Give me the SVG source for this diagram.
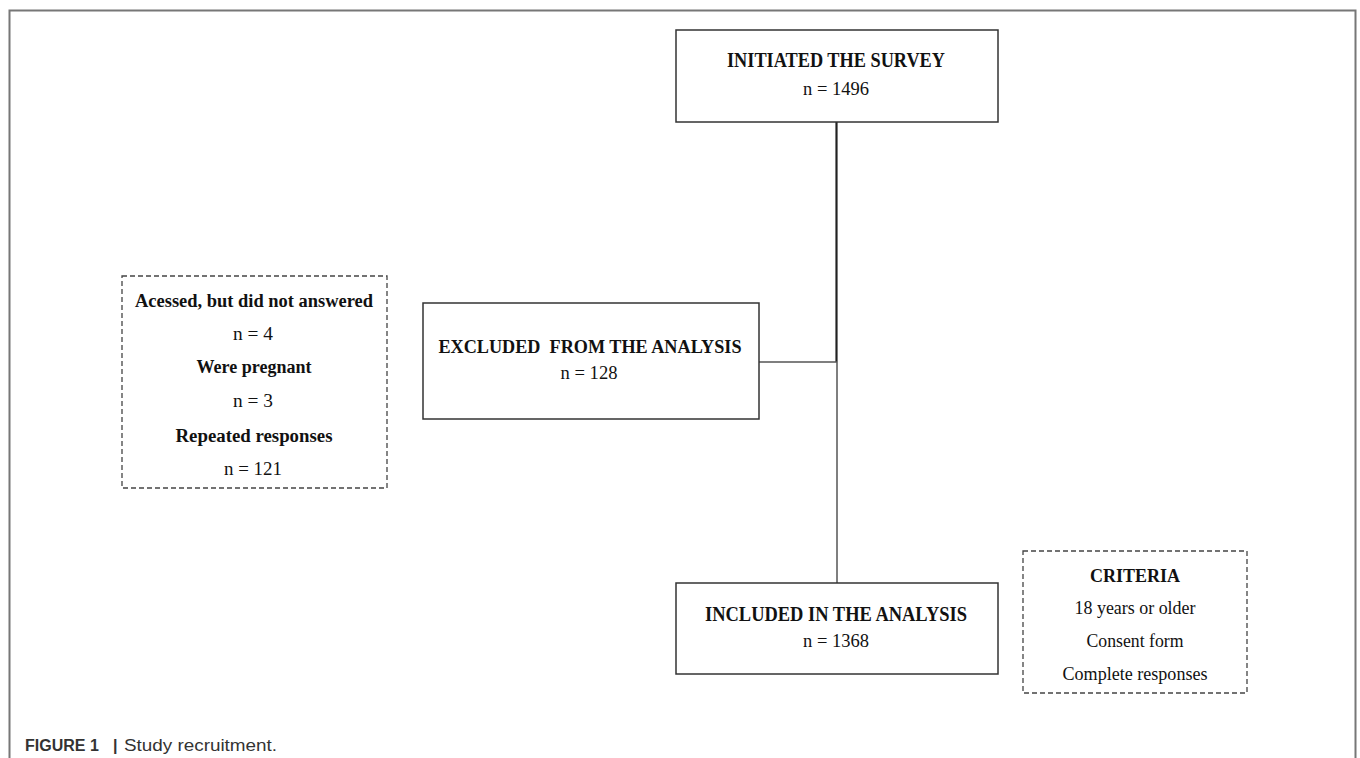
<svg xmlns="http://www.w3.org/2000/svg" width="1360" height="758" viewBox="0 0 1360 758">
<style>
.box{fill:#fff;stroke:#333;stroke-width:1.5}
.dash{fill:#fff;stroke:#444;stroke-width:1.3;stroke-dasharray:5,3}
.h{font-family:"Liberation Serif",serif;font-weight:bold;font-size:18.5px;fill:#111;text-anchor:middle}
.big{font-size:20px}
.n{font-family:"Liberation Serif",serif;font-size:18px;fill:#111;text-anchor:middle}
.c{font-family:"Liberation Sans",sans-serif;font-size:16px;fill:#333}
.ln{fill:none;stroke:#555;stroke-width:1.5}
</style>
<rect width="1360" height="758" fill="#fff"/>
<path d="M9.5,758 V10.5 H1355.5 V758" fill="none" stroke="#777" stroke-width="2"/>
<g id="connectors">
<path d="M836.5,122 V362" fill="none" stroke="#222" stroke-width="2.2"/>
<path d="M759,362 H837 M837,362 V583" class="ln"/>
</g>
<g id="initiated">
<rect class="box" x="676" y="30" width="322" height="92"/>
<text class="h big" x="836" y="67" textLength="218" lengthAdjust="spacingAndGlyphs">INITIATED THE SURVEY</text>
<text class="n" x="836" y="95" textLength="66" lengthAdjust="spacingAndGlyphs">n = 1496</text>
</g>
<g id="excluded">
<rect class="box" x="423" y="303" width="336" height="116"/>
<text class="h" x="590" y="353" textLength="303" lengthAdjust="spacingAndGlyphs">EXCLUDED&#160; FROM THE ANALYSIS</text>
<text class="n" x="589" y="379" textLength="57" lengthAdjust="spacingAndGlyphs">n = 128</text>
</g>
<g id="included">
<rect class="box" x="676" y="583" width="322" height="91"/>
<text class="h big" x="836" y="621" textLength="262" lengthAdjust="spacingAndGlyphs">INCLUDED IN THE ANALYSIS</text>
<text class="n" x="836" y="647" textLength="66" lengthAdjust="spacingAndGlyphs">n = 1368</text>
</g>
<g id="reasons">
<rect class="dash" x="122" y="276" width="265" height="212"/>
<text class="h" x="254" y="307" textLength="238" lengthAdjust="spacingAndGlyphs">Acessed, but did not answered</text>
<text class="n" x="253" y="340" textLength="40" lengthAdjust="spacingAndGlyphs">n = 4</text>
<text class="h" x="254" y="373" textLength="115" lengthAdjust="spacingAndGlyphs">Were pregnant</text>
<text class="n" x="253" y="407" textLength="40" lengthAdjust="spacingAndGlyphs">n = 3</text>
<text class="h" x="254" y="442" textLength="157" lengthAdjust="spacingAndGlyphs">Repeated responses</text>
<text class="n" x="253" y="475" textLength="58" lengthAdjust="spacingAndGlyphs">n = 121</text>
</g>
<g id="criteria">
<rect class="dash" x="1023" y="551" width="224" height="142"/>
<text class="h" x="1135" y="582" textLength="90" lengthAdjust="spacingAndGlyphs">CRITERIA</text>
<text class="n" x="1135" y="614" textLength="121" lengthAdjust="spacingAndGlyphs">18 years or older</text>
<text class="n" x="1135" y="647" textLength="97" lengthAdjust="spacingAndGlyphs">Consent form</text>
<text class="n" x="1135" y="680" textLength="145" lengthAdjust="spacingAndGlyphs">Complete responses</text>
</g>
<g id="caption">
<text class="c" x="25" y="751" font-weight="bold">FIGURE 1</text>
<text class="c" x="113" y="751" font-weight="bold">|</text>
<text class="c" x="124" y="751" font-size="17" textLength="153" lengthAdjust="spacingAndGlyphs">Study recruitment.</text>
</g>
</svg>
